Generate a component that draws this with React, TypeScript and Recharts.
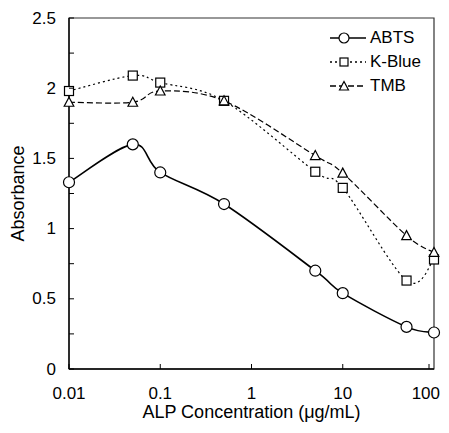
import React from "react";
import {
  LineChart,
  Line,
  XAxis,
  YAxis,
  ReferenceArea,
} from "recharts";

const concentrations = [0.01, 0.05, 0.1, 0.5, 5, 10, 50, 100];
const abts = [1.33, 1.6, 1.4, 1.175, 0.7, 0.54, 0.3, 0.26];
const kBlue = [1.98, 2.09, 2.04, 1.91, 1.405, 1.29, 0.63, 0.78];
const tmb = [1.9, 1.9, 1.98, 1.91, 1.52, 1.395, 0.95, 0.83];

const xTicks = [0.01, 0.1, 1, 10, 100];
const yTicks = [0, 0.25, 0.5, 0.75, 1, 1.25, 1.5, 1.75, 2, 2.25, 2.5];

const data = concentrations.map((c, i) => ({
  conc: c,
  ABTS: abts[i],
  KBlue: kBlue[i],
  TMB: tmb[i],
}));

const FONT = "'Liberation Sans', Arial, sans-serif";
const CHART_W = 433;

// excel-ish smoothed line (catmull-rom through the points)
const smoothCurve = (context: any) => {
  let pts: [number, number][] = [];
  return {
    areaStart() {},
    areaEnd() {},
    lineStart() {
      pts = [];
    },
    lineEnd() {
      if (!pts.length) return;
      context.moveTo(pts[0][0], pts[0][1]);
      for (let i = 0; i < pts.length - 1; i++) {
        const p0 = pts[Math.max(0, i - 1)];
        const p1 = pts[i];
        const p2 = pts[i + 1];
        const p3 = pts[Math.min(pts.length - 1, i + 2)];
        context.bezierCurveTo(
          p1[0] + (p2[0] - p0[0]) / 6,
          p1[1] + (p2[1] - p0[1]) / 6,
          p2[0] - (p3[0] - p1[0]) / 6,
          p2[1] - (p3[1] - p1[1]) / 6,
          p2[0],
          p2[1]
        );
      }
    },
    point(x: number, y: number) {
      pts.push([x, y]);
    },
  };
};

const CircleDot = (props: any) => {
  const { cx, cy, index } = props;
  if (cx == null || cy == null) return <g key={`c-${index}`} />;
  return <circle key={`c-${index}`} cx={cx} cy={cy} r={5.5} fill="#fff" stroke="#000" strokeWidth={1.2} />;
};

const SquareDot = (props: any) => {
  const { cx, cy, index } = props;
  if (cx == null || cy == null) return <g key={`s-${index}`} />;
  return <rect key={`s-${index}`} x={cx - 4.5} y={cy - 4.5} width={9} height={9} fill="#fff" stroke="#000" strokeWidth={1.2} />;
};

const TriangleDot = (props: any) => {
  const { cx, cy, index } = props;
  if (cx == null || cy == null) return <g key={`t-${index}`} />;
  return (
    <polygon
      key={`t-${index}`}
      points={`${cx},${cy - 5} ${cx - 4.8},${cy + 4} ${cx + 4.8},${cy + 4}`}
      fill="#fff"
      stroke="#000"
      strokeWidth={1.2}
    />
  );
};

const YTick = (props: any) => {
  const { x, y, payload } = props;
  const v = payload.value;
  const major = Math.abs(v * 2 - Math.round(v * 2)) < 1e-6;
  return (
    <g>
      <line x1={x + 13} x2={x + 18} y1={y} y2={y} stroke="#000" />
      {major && (
        <text x={x} y={y} textAnchor="end" dominantBaseline="central" fontSize={17} fontFamily={FONT} fill="#000">
          {String(v)}
        </text>
      )}
    </g>
  );
};

const XTick = (props: any) => {
  const { x, y, payload } = props;
  const label = String(payload.value);
  const halfW = label.length * 4.7;
  // keep the last label inside the drawing area
  const overflow = x + halfW > CHART_W - 1;
  return (
    <g>
      <line x1={x} x2={x} y1={y} y2={y - 5} stroke="#000" />
      <text
        x={overflow ? CHART_W - 1 : x}
        y={y + 24}
        textAnchor={overflow ? "end" : "middle"}
        dominantBaseline="central"
        fontSize={17}
        fontFamily={FONT}
        fill="#000"
      >
        {label}
      </text>
    </g>
  );
};

const legendItems = [
  { name: "ABTS", dash: undefined, marker: "circle" },
  { name: "K-Blue", dash: "2 3", marker: "square" },
  { name: "TMB", dash: "6 3", marker: "triangle" },
];

const ChartLegend = () => (
  <div style={{ position: "absolute", top: 18, left: 322, fontFamily: FONT, fontSize: 17, color: "#000" }}>
    {legendItems.map((it) => (
      <div key={it.name} style={{ display: "flex", alignItems: "center", height: 24 }}>
        <svg width={38} height={14} style={{ marginRight: 2 }}>
          <line x1={0} x2={36} y1={7} y2={7} stroke="#000" strokeWidth={1.3} strokeDasharray={it.dash} />
          {it.marker === "circle" && <circle cx={14} cy={7} r={5} fill="#fff" stroke="#000" strokeWidth={1.2} />}
          {it.marker === "square" && <rect x={10} y={3} width={8} height={8} fill="#fff" stroke="#000" strokeWidth={1.2} />}
          {it.marker === "triangle" && (
            <polygon points="14,2.5 9.5,11 18.5,11" fill="#fff" stroke="#000" strokeWidth={1.2} />
          )}
        </svg>
        <span>{it.name}</span>
      </div>
    ))}
  </div>
);

export default function App() {
  return (
    <div style={{ width: CHART_W, height: 415, position: "relative" }}>
      <LineChart
        width={CHART_W}
        height={415}
        data={data}
        margin={{ top: 10, right: 7, left: 0, bottom: 0 }}
        style={{ display: "block" }}
      >
        <XAxis
          dataKey="conc"
          type="number"
          scale="log"
          domain={[0.01, 100]}
          ticks={xTicks}
          height={54}
          tickSize={0}
          tickMargin={0}
          tickLine={false}
          axisLine={{ stroke: "#000", strokeWidth: 1.3 }}
          tick={<XTick />}
          label={{
            value: "ALP Concentration (\u03bcg/mL)",
            position: "insideBottom",
            offset: 5,
            style: { fontSize: 18, fontFamily: FONT, fill: "#000" },
          }}
        />
        <YAxis
          type="number"
          domain={[0, 2.5]}
          ticks={yTicks}
          width={61}
          tickSize={0}
          tickMargin={13}
          tickLine={false}
          axisLine={{ stroke: "#000", strokeWidth: 1.3 }}
          tick={<YTick />}
          label={{
            value: "Absorbance",
            angle: -90,
            position: "insideLeft",
            offset: 10,
            style: { fontSize: 18, fontFamily: FONT, fill: "#000", textAnchor: "middle" },
          }}
        />
        <ReferenceArea x1={0.01} x2={100} y1={0} y2={2.5} fill="none" stroke="#333" strokeWidth={1.2} />
        <Line
          dataKey="ABTS"
          type={smoothCurve as any}
          stroke="#000"
          strokeWidth={1.6}
          dot={CircleDot}
          activeDot={false}
          isAnimationActive={false}
        />
        <Line
          dataKey="KBlue"
          type={smoothCurve as any}
          stroke="#000"
          strokeWidth={1.2}
          strokeDasharray="2 3"
          dot={SquareDot}
          activeDot={false}
          isAnimationActive={false}
        />
        <Line
          dataKey="TMB"
          type={smoothCurve as any}
          stroke="#000"
          strokeWidth={1.2}
          strokeDasharray="6 3"
          dot={TriangleDot}
          activeDot={false}
          isAnimationActive={false}
        />
      </LineChart>
      <ChartLegend />
    </div>
  );
}
